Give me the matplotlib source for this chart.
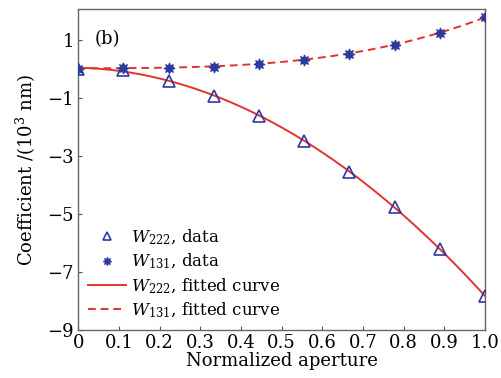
import numpy as np
import matplotlib
matplotlib.use("Agg")
import matplotlib.pyplot as plt

plt.rcParams['font.family'] = ['DejaVu Serif']
plt.rcParams['mathtext.fontset'] = 'dejavuserif'

aperture = np.linspace(0, 1, 10)
w222 = [0.0, -0.05, -0.41, -0.93, -1.63, -2.48, -3.55, -4.78, -6.2, -7.83]
w131 = [0.0, 0.03, 0.03, 0.07, 0.17, 0.31, 0.52, 0.83, 1.24, 1.76]

blue = '#2b3b9e'
red = '#e0342f'

fig = plt.figure(figsize=(5.01, 3.78), dpi=100)
ax = fig.add_axes([0.156, 0.127, 0.812, 0.849])

xf = np.linspace(0, 1, 200)
p222 = np.polyfit(aperture, w222, 2)
p131 = np.polyfit(aperture, w131, 3)

ax.plot(aperture, w222, linestyle='none', marker='^', markersize=8, markerfacecolor='none',
        markeredgecolor=blue, markeredgewidth=1.2, label='$W_{222}$, data', zorder=3)
ax.plot(aperture, w131, linestyle='none', marker=(8, 1, 0), markersize=8,
        markeredgecolor=blue, markerfacecolor=blue, markeredgewidth=0.8, label='$W_{131}$, data', zorder=3)
ax.plot(xf, np.polyval(p222, xf), color=red, lw=1.4, label='$W_{222}$, fitted curve', zorder=2)
ax.plot(xf, np.polyval(p131, xf), color=red, lw=1.4, linestyle=(0, (4, 2.5)), label='$W_{131}$, fitted curve', zorder=2)

ax.set_xlim(0, 1.0)
ax.set_ylim(-9, 2.05)
ax.set_xticks(np.arange(0, 1.01, 0.1))
ax.set_xticklabels(['0', '0.1', '0.2', '0.3', '0.4', '0.5', '0.6', '0.7', '0.8', '0.9', '1.0'])
ax.set_yticks([1, -1, -3, -5, -7, -9])
ax.tick_params(direction='in', length=3, labelsize=13, color='#555555', pad=3)
for s in ax.spines.values():
    s.set_color('#666666')
    s.set_linewidth(1.0)

ax.set_xlabel('Normalized aperture', fontsize=13, labelpad=0)
ax.set_ylabel('Coefficient /(10$^3$ nm)', fontsize=13, labelpad=7)
ax.text(0.04, 1.0, '(b)', fontsize=13, va='center', ha='left')

leg = ax.legend(loc='lower left', bbox_to_anchor=(0.0, 0.0), frameon=False, fontsize=12,
                handlelength=2.3, handletextpad=0.3, labelspacing=0.3, borderaxespad=0.2,
                markerscale=0.75)

fig.savefig('out.png', dpi=100)
